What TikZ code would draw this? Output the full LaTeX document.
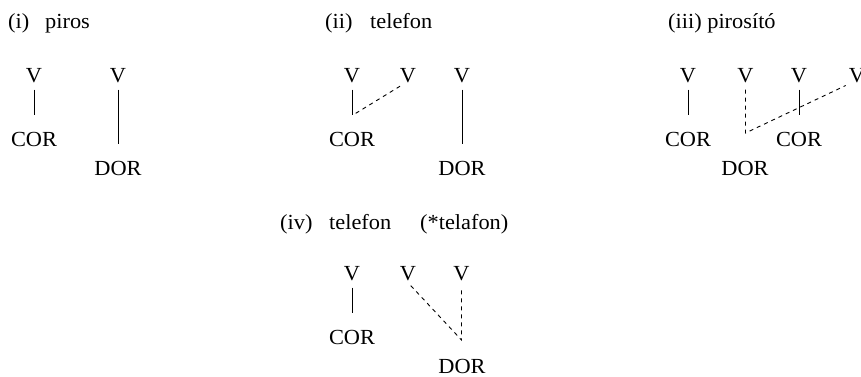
\documentclass[tikz,border=0pt]{standalone}
\usepackage{fontspec}
\setmainfont{Liberation Serif}[FakeStretch=1.04]
\usetikzlibrary{calc}

\tikzset{
  seg/.style={inner sep=0pt, anchor=base, font=\fontsize{21.5}{25}\selectfont},
  tag/.style={inner sep=0pt, anchor=base west, font=\fontsize{21.5}{25}\selectfont},
  link/.style={line width=0.9pt, shorten <=7pt, shorten >=17pt},
  dlink/.style={line width=0.9pt, dash pattern=on 4pt off 4pt, shorten <=7pt}
}

\begin{document}
\begin{tikzpicture}[x=1pt, y=-1pt]
        \useasboundingbox (0,0) rectangle (861,376);
        % (i)
        \node[tag] (ti) at (8,28) {(i)};
        \node[tag] (wi) at (45,28) {piros};
        \node[seg] (v11) at (34,82) {V};
        \node[seg] (v12) at (118,82) {V};
        \node[seg] (c11) at (34,146) {COR};
        \node[seg] (d11) at (118,175) {DOR};
        \draw[link] (v11.south) -- (c11.north);
        \draw[link] (v12.south) -- (d11.north);
        % (ii)
        \node[tag] (tii) at (325,28) {(ii)};
        \node[tag] (wii) at (370,28) {telefon};
        \node[seg] (v21) at (352,82) {V};
        \node[seg] (v22) at (408,82) {V};
        \node[seg] (v23) at (462,82) {V};
        \node[seg] (c21) at (352,146) {COR};
        \node[seg] (d21) at (462,175) {DOR};
        \coordinate (j2) at (353,115);
        \draw[link] (v21.south) -- (c21.north);
        \draw[link] (v23.south) -- (d21.north);
        \draw[dlink] ($(v22.south)+(-2,0)$) -- (j2);
        % (iii)
        \node[tag] (tiii) at (668,28) {(iii) pirosító};
        \node[seg] (v31) at (688,82) {V};
        \node[seg] (v32) at (745.5,82) {V};
        \node[seg] (v33) at (799,82) {V};
        \node[seg] (v34) at (857,82) {V};
        \node[seg] (c31) at (688,146) {COR};
        \node[seg] (c32) at (799,146) {COR};
        \node[seg] (d31) at (745,175) {DOR};
        \coordinate (j3) at (745.5,133);
        \draw[link] (v31.south) -- (c31.north);
        \draw[link] (v33.south) -- (c32.north);
        \draw[dlink, shorten >=7pt] (v32.south) -- (j3) -- ($(v34.south)+(-5,0)$);
        % (iv)
        \node[tag] (tiv) at (280,229) {(iv)};
        \node[tag] (wiv) at (329,229) {telefon};
        \node[tag] (xiv) at (420,229) {(*telafon)};
        \node[seg] (v41) at (352,280) {V};
        \node[seg] (v42) at (408,280) {V};
        \node[seg] (v43) at (461.5,280) {V};
        \node[seg] (c41) at (352,344) {COR};
        \node[seg] (d41) at (462,373) {DOR};
        \coordinate (j4) at (461.5,340);
        \draw[link] (v41.south) -- (c41.north);
        \draw[dlink, shorten >=7pt] ($(v42.south)+(-2,0)$) -- (j4) -- (v43.south);
\end{tikzpicture}
\end{document}
